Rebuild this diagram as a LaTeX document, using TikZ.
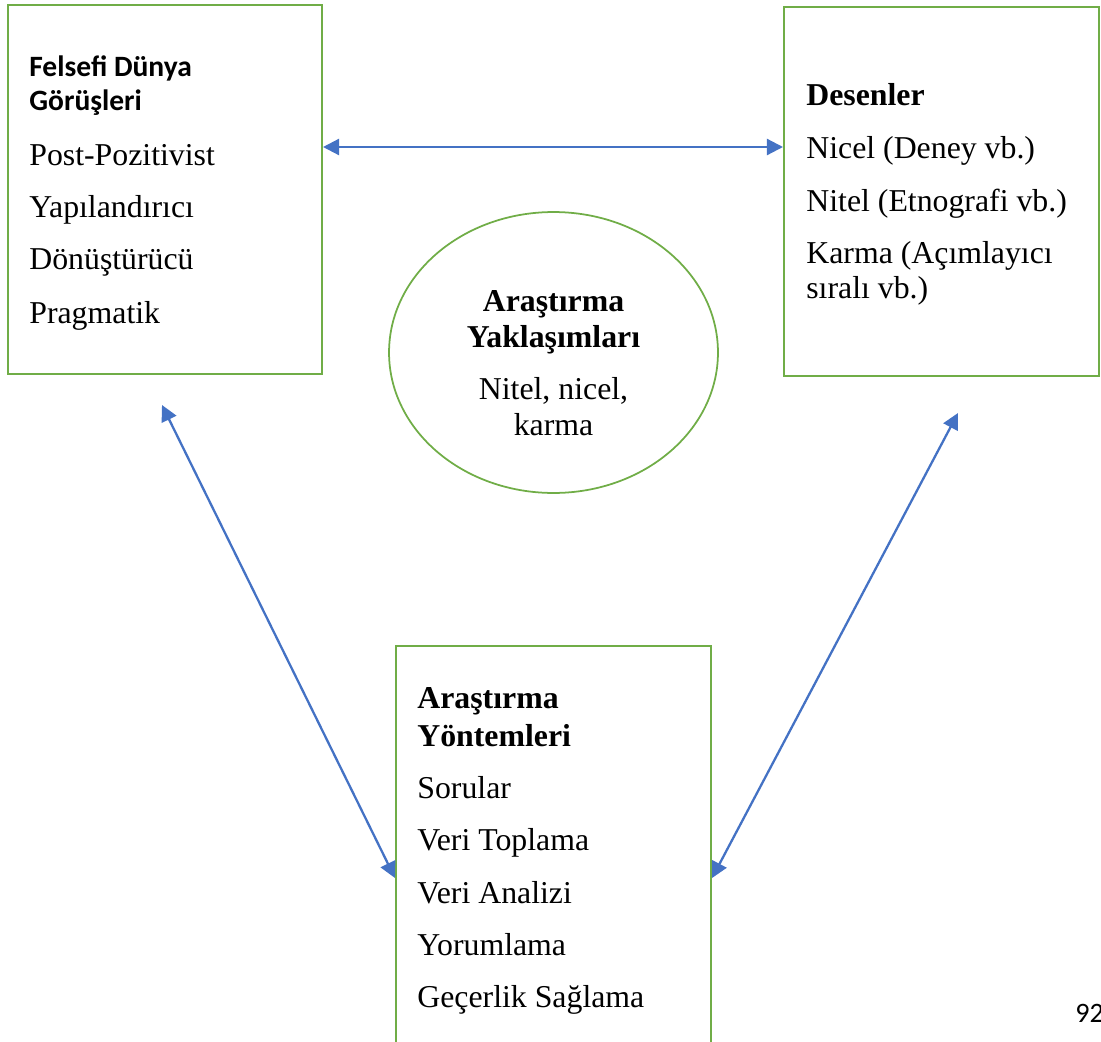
\documentclass[tikz,border=0pt]{standalone}
\usepackage{fontspec}
\setmainfont{Liberation Serif}
\newfontfamily\calibri{Carlito}
\usetikzlibrary{arrows.meta,shapes.geometric}
\definecolor{boxgreen}{HTML}{70AD47}
\definecolor{arrowblue}{HTML}{4472C4}
\begin{document}
\begin{tikzpicture}[x=0.02cm, y=-0.02cm, box/.style = {draw=boxgreen, line width=1.2pt, inner sep=0pt}, txt/.style = {anchor=base west, inner sep=0pt, font=\fontsize{18.1}{22}\selectfont}, head/.style = {txt, font=\fontsize{18.1}{22}\selectfont\bfseries}, mid/.style = {txt, anchor=base}, link/.style = {arrowblue, line width=1.3pt, {Triangle[length=0.32cm,width=0.32cm]}-{Triangle[length=0.32cm,width=0.32cm]}}]
  \useasboundingbox (0,0) rectangle (1101,1041);
  % boxes
  \node[box, minimum width=6.28cm, minimum height=7.38cm] (felsefe) at (165,189.5) {};
  \node[box, minimum width=6.30cm, minimum height=7.38cm] (desen) at (941.5,191.5) {};
  \node[box, ellipse, line width=1pt, minimum width=6.58cm, minimum height=5.62cm] (yaklasim) at (553.5,352.5) {};
  \node[box, minimum width=6.30cm, minimum height=9.08cm] (yontem) at (553.5,873) {};
  % Felsefi Dünya Görüşleri
  \node[txt, font=\fontsize{16.8}{20}\calibri\bfseries] (f0) at (29,76) {Felsefi Dünya};
  \node[txt, font=\fontsize{16.8}{20}\calibri\bfseries] (f1) at (29,110) {Görüşleri};
  \node[txt] (f2) at (29,165) {Post-Pozitivist};
  \node[txt] (f3) at (29,217) {Yapılandırıcı};
  \node[txt] (f4) at (29,269) {Dönüştürücü};
  \node[txt] (f5) at (29,323) {Pragmatik};
  % Desenler
  \node[head] (d0) at (806,105) {Desenler};
  \node[txt] (d1) at (806,158) {Nicel (Deney vb.)};
  \node[txt] (d2) at (806,211) {Nitel (Etnografi vb.)};
  \node[txt] (d3) at (806,263) {Karma (Açımlayıcı};
  \node[txt] (d4) at (806,298) {sıralı vb.)};
  % Araştırma Yaklaşımları
  \node[head, anchor=base] (y0) at (553.5,311) {Araştırma};
  \node[head, anchor=base] (y1) at (553.5,347) {Yaklaşımları};
  \node[mid] (y2) at (553.5,399) {Nitel, nicel,};
  \node[mid] (y3) at (553.5,435) {karma};
  % Araştırma Yöntemleri
  \node[head] (m0) at (417,708) {Araştırma};
  \node[head] (m1) at (417,746) {Yöntemleri};
  \node[txt] (m2) at (417,798) {Sorular};
  \node[txt] (m3) at (417,850) {Veri Toplama};
  \node[txt] (m4) at (417,903) {Veri Analizi};
  \node[txt] (m5) at (417,955) {Yorumlama};
  \node[txt] (m6) at (417,1007) {Geçerlik Sağlama};
  % page number
  \node[txt, font=\fontsize{16}{19}\calibri] (page) at (1075,1022) {92};
  % arrows
  \coordinate (top) at (0,147);
  \coordinate (low) at (0,878);
  \coordinate (ltip) at (162,405);
  \coordinate (rtip) at (958,413);
  \draw[link] (felsefe.east |- top) -- (desen.west |- top);
  \draw[link] (ltip) -- (yontem.west |- low);
  \draw[link] (rtip) -- (yontem.east |- low);
\end{tikzpicture}
\end{document}
